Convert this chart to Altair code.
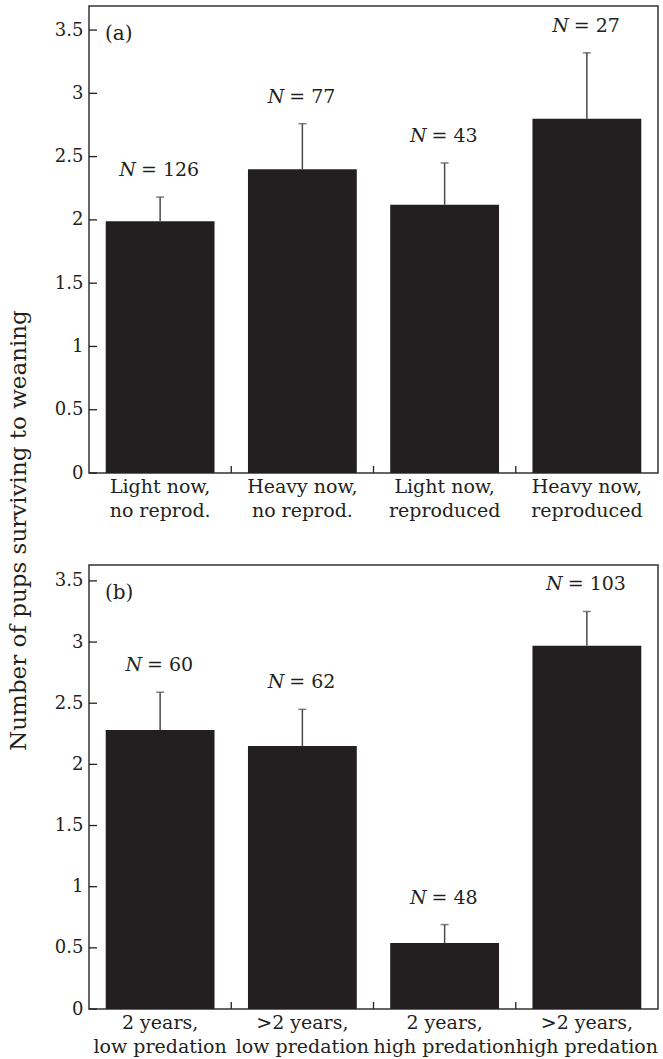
import altair as alt
import pandas as pd

FONT = "DejaVu Serif"
INK = "#231f20"
ERR = "#4a4a4a"

panel_tags = ["(a)", "(b)"]

a_line1 = ["Light now,", "Heavy now,", "Light now,", "Heavy now,"]
a_line2 = ["no reprod.", "no reprod.", "reproduced", "reproduced"]
a_mean = [1.99, 2.40, 2.12, 2.80]
a_upper = [2.18, 2.76, 2.45, 3.32]
a_n = ["126", "77", "43", "27"]

b_line1 = ["2 years,", ">2 years,", "2 years,", ">2 years,"]
b_line2 = ["low predation", "low predation", "high predation", "high predation"]
b_mean = [2.28, 2.15, 0.54, 2.97]
b_upper = [2.59, 2.45, 0.69, 3.25]
b_n = ["60", "62", "48", "103"]

y_ticks = [0, 0.5, 1, 1.5, 2, 2.5, 3, 3.5]
x_bounds = [1, 2, 3]
y_title = "Number of pups surviving to weaning"

W = 569
STEP = W / 4.0


def panel(tag, l1, l2, mean, upper, n, ymax, H, title):
    df = pd.DataFrame({
        "pos": [i + 0.5 for i in range(len(mean))],
        "label": [a + "\n" + b for a, b in zip(l1, l2)],
        "mean": mean,
        "upper": upper,
        "n": n,
    })
    xs = alt.Scale(domain=[0, 4], nice=False, zero=False)
    ys = alt.Scale(domain=[0, ymax], nice=False, zero=True)
    base = alt.Chart(df)

    if title:
        yaxis = alt.Axis(values=y_ticks, format="~g", ticks=False, domain=False, grid=False,
                         labelFont=FONT, labelFontSize=18, labelColor=INK, labelPadding=6,
                         title=title, titleFont=FONT, titleFontSize=23, titleFontWeight="normal",
                         titleColor=INK, titleAngle=270, titleX=-71, titleY=524,
                         titleAlign="center", titleBaseline="middle")
    else:
        yaxis = alt.Axis(values=y_ticks, format="~g", ticks=False, domain=False, grid=False,
                         labelFont=FONT, labelFontSize=18, labelColor=INK, labelPadding=6,
                         title=None)

    bars = base.transform_calculate(
        x0="datum.pos - 0.3825", x1="datum.pos + 0.3825"
    ).mark_bar(color=INK).encode(
        x=alt.X("x0:Q", scale=xs, axis=None),
        x2="x1:Q",
        y=alt.Y("mean:Q", scale=ys, axis=yaxis),
        y2=alt.datum(0),
    )
    err = base.mark_rule(color=ERR, strokeWidth=1.5).encode(
        x=alt.X("pos:Q", scale=xs, axis=None),
        y=alt.Y("mean:Q", scale=ys, axis=yaxis),
        y2="upper:Q",
    )
    cap = base.mark_tick(orient="horizontal", size=8, thickness=1.5, color=ERR).encode(
        x=alt.X("pos:Q", scale=xs, axis=None),
        y=alt.Y("upper:Q", scale=ys, axis=yaxis),
    )
    lab = base.transform_calculate(
        nx=f"datum.pos + (14 - 22 - 12.1*length(datum.n))/2/{STEP}",
        rest="'= ' + datum.n",
    )
    nlab = lab.mark_text(font=FONT, fontStyle="italic", fontSize=19, color=INK,
                         align="right", baseline="middle", dy=-27, dx=-2).encode(
        x=alt.X("nx:Q", scale=xs, axis=None),
        y=alt.Y("upper:Q", scale=ys, axis=yaxis),
        text=alt.value("N"),
    )
    rlab = lab.mark_text(font=FONT, fontSize=19, color=INK,
                         align="left", baseline="middle", dy=-27, dx=3).encode(
        x=alt.X("nx:Q", scale=xs, axis=None),
        y=alt.Y("upper:Q", scale=ys, axis=yaxis),
        text="rest:N",
    )
    cats = base.mark_text(font=FONT, fontSize=19, color=INK, align="center",
                          baseline="alphabetic", lineBreak="\n", lineHeight=24).encode(
        x=alt.X("pos:Q", scale=xs, axis=None),
        y=alt.value(H + 20),
        text="label:N",
    )
    yt = alt.Chart(pd.DataFrame({"v": y_ticks})).mark_rule(color=INK, strokeWidth=1.3).encode(
        x=alt.value(0), x2=alt.value(8),
        y=alt.Y("v:Q", scale=ys, axis=yaxis),
    )
    xt = alt.Chart(pd.DataFrame({"b": x_bounds})).mark_rule(color=INK, strokeWidth=1.3).encode(
        x=alt.X("b:Q", scale=xs, axis=None),
        y=alt.value(H), y2=alt.value(H - 7),
    )
    tg = alt.Chart(pd.DataFrame({"tag": [tag]})).mark_text(
        font=FONT, fontSize=20, color=INK, align="left", baseline="middle").encode(
        x=alt.value(16), y=alt.value(28), text="tag:N")

    return alt.layer(bars, err, cap, nlab, rlab, cats, yt, xt, tg).properties(width=W, height=H)


top = panel(panel_tags[0], a_line1, a_line2, a_mean, a_upper, a_n, 3.69, 467, y_title)
bottom = panel(panel_tags[1], b_line1, b_line2, b_mean, b_upper, b_n, 3.63, 444, None)

chart = alt.vconcat(top, bottom, spacing=92, bounds="flush").configure_view(
    stroke="#333333", strokeWidth=1.5
).properties(
    padding={"left": 6, "top": 5, "right": 0, "bottom": 0},
    background="white",
)

chart.save("out.html", embed_options={"renderer": "svg", "actions": False})
